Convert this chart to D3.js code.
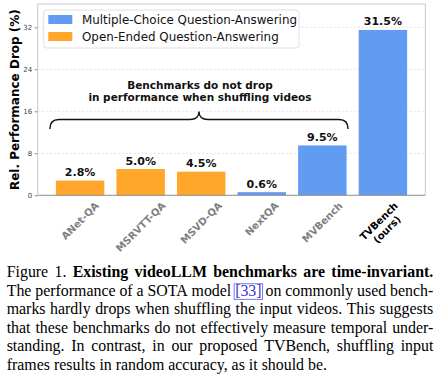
<!DOCTYPE html>
<html>
<head>
<meta charset="utf-8">
<script src="https://cdn.jsdelivr.net/npm/d3@7"></script>
<style>
  body { margin: 0; background: #fff; }
  svg { display: block; }
</style>
</head>
<body>
<script>
// chart data
var categories = ["ANet-QA", "MSRVTT-QA", "MSVD-QA", "NextQA", "MVBench", "TVBench"];
var tickNames = [["ANet-QA"], ["MSRVTT-QA"], ["MSVD-QA"], ["NextQA"], ["MVBench"], ["TVBench", "(ours)"]];
var drops = [2.8, 5.0, 4.5, 0.6, 9.5, 31.5];
var kinds = ["oe", "oe", "oe", "mc", "mc", "mc"];
var yTicks = [0, 8, 16, 24, 32];
var legendItems = [
  { key: "mc", label: "Multiple-Choice Question-Answering" },
  { key: "oe", label: "Open-Ended Question-Answering" }
];
var noteLines = ["Benchmarks do not drop", "in performance when shuffling videos"];

// caption, one array per printed line
var captionLines = [
  [["Figure 1.", "n"], ["Existing videoLLM benchmarks are time-invariant.", "b"]],
  [["The performance of a SOTA model", "n"], ["[33]", "l"], ["on commonly used bench-", "n"]],
  [["marks hardly drops when shuffling the input videos. This suggests", "n"]],
  [["that these benchmarks do not effectively measure temporal under-", "n"]],
  [["standing. In contrast, in our proposed TVBench, shuffling input", "n"]],
  [["frames results in random accuracy, as it should be.", "n"]]
];

var W = 442, H = 384;
var colors = { mc: "#619bf2", oe: "#ffa62b" };
var chartFont = "DejaVu Sans, sans-serif";

var svg = d3.select("body").append("svg")
  .attr("width", W)
  .attr("height", H);

var plotL = 37.7, plotR = 425.3, plotT = 4, plotB = 195.3;

var x = d3.scaleBand()
  .domain(categories)
  .range([plotL, plotR])
  .paddingInner(0.2)
  .paddingOuter(0.3);

var y = d3.scaleLinear()
  .domain([0, 36.44])
  .range([plotB, plotT]);

// grid
svg.append("g").selectAll("line")
  .data(yTicks.filter(function (d) { return d > 0; }))
  .enter().append("line")
  .attr("x1", plotL).attr("x2", plotR)
  .attr("y1", function (d) { return y(d); })
  .attr("y2", function (d) { return y(d); })
  .attr("stroke", "#d9d9d9")
  .attr("stroke-width", 0.8)
  .attr("stroke-dasharray", "2,2");

// y axis ticks
var yAxis = svg.append("g")
  .attr("transform", "translate(" + plotL + ",0)")
  .call(d3.axisLeft(y).tickValues(yTicks).tickSize(3).tickPadding(2.5));
yAxis.select(".domain").remove();
yAxis.selectAll(".tick line").attr("stroke", "#888");
yAxis.selectAll(".tick text")
  .attr("font-family", chartFont)
  .attr("font-size", 7)
  .attr("fill", "#444");

// bars
svg.append("g").selectAll("rect")
  .data(categories)
  .enter().append("rect")
  .attr("x", function (d) { return x(d); })
  .attr("y", function (d, i) { return y(drops[i]); })
  .attr("width", x.bandwidth())
  .attr("height", function (d, i) { return plotB - y(drops[i]); })
  .attr("fill", function (d, i) { return colors[kinds[i]]; });

// value labels
svg.append("g").selectAll("text")
  .data(categories)
  .enter().append("text")
  .attr("x", function (d) { return x(d) + x.bandwidth() / 2; })
  .attr("y", function (d, i) { return y(drops[i]) - 4.5; })
  .attr("text-anchor", "middle")
  .attr("font-family", chartFont)
  .attr("font-weight", "bold")
  .attr("font-size", 11)
  .attr("fill", "#111")
  .text(function (d, i) { return drops[i].toFixed(1) + "%"; });

// spines
svg.append("path")
  .attr("d", "M" + plotL + "," + plotB + "V" + plotT + "H" + plotR + "V" + plotB)
  .attr("fill", "none")
  .attr("stroke", "#c8c8c8")
  .attr("stroke-width", 1);
svg.append("line")
  .attr("x1", plotL).attr("x2", plotR)
  .attr("y1", plotB).attr("y2", plotB)
  .attr("stroke", "#8c8c8c")
  .attr("stroke-width", 1);

// rotated category labels, box centred under each bar
var xfs = 10, lineH = xfs * 1.16;
tickNames.forEach(function (lines, i) {
  var cx = x(categories[i]) + x.bandwidth() / 2;
  var g = svg.append("g");
  var texts = lines.map(function (s, k) {
    return g.append("text")
      .attr("x", 0)
      .attr("y", (k - (lines.length - 1) / 2) * lineH)
      .attr("dy", "0.35em")
      .attr("text-anchor", "middle")
      .attr("font-family", chartFont)
      .attr("font-weight", "bold")
      .attr("font-size", xfs)
      .attr("fill", i === categories.length - 1 ? "#000" : "#808080")
      .text(s);
  });
  var len = d3.max(texts, function (t) { return t.node().getComputedTextLength(); });
  var boxH = (len + lines.length * lineH) * Math.SQRT1_2;
  var cy = plotB + 4.5 + boxH / 2;
  g.attr("transform", "translate(" + cx + "," + cy + ") rotate(-45)");
});

// y label
svg.append("text")
  .attr("transform", "translate(18.5," + ((plotT + plotB) / 2) + ") rotate(-90)")
  .attr("text-anchor", "middle")
  .attr("font-family", chartFont)
  .attr("font-weight", "bold")
  .attr("font-size", 12)
  .attr("fill", "#000")
  .text("Rel. Performance Drop (%)");

// legend
var lg = svg.append("g");
lg.append("rect")
  .attr("x", 43.7).attr("y", 10)
  .attr("width", 255.3).attr("height", 38)
  .attr("rx", 3)
  .attr("fill", "#fff")
  .attr("fill-opacity", 0.85)
  .attr("stroke", "#d8d8d8")
  .attr("stroke-width", 0.8);
legendItems.forEach(function (it, i) {
  var yy = 15 + i * 17;
  lg.append("rect")
    .attr("x", 48.3).attr("y", yy)
    .attr("width", 24).attr("height", 9)
    .attr("fill", colors[it.key]);
  lg.append("text")
    .attr("x", 82).attr("y", yy + 8.5)
    .attr("font-family", chartFont)
    .attr("font-size", 11.9)
    .attr("fill", "#111")
    .text(it.label);
});

// curly bracket over the five older benchmarks
var bx0 = x(categories[0]) - 6;
var bx1 = x(categories[4]) + x.bandwidth() + 1.5;
var bm = (bx0 + bx1) / 2, by = 119.5, r = 9;
svg.append("path")
  .attr("d", "M" + bx0 + "," + (by + 9.5) +
    "Q" + bx0 + "," + by + " " + (bx0 + r) + "," + by +
    "H" + (bm - r) +
    "Q" + bm + "," + by + " " + bm + "," + (by - 8) +
    "Q" + bm + "," + by + " " + (bm + r) + "," + by +
    "H" + (bx1 - r) +
    "Q" + bx1 + "," + by + " " + bx1 + "," + (by + 9.5))
  .attr("fill", "none")
  .attr("stroke", "#111")
  .attr("stroke-width", 1.4);

svg.append("g").selectAll("text")
  .data(noteLines)
  .enter().append("text")
  .attr("x", bm + 1)
  .attr("y", function (d, i) { return 89 + i * 12; })
  .attr("text-anchor", "middle")
  .attr("font-family", chartFont)
  .attr("font-weight", "bold")
  .attr("font-size", 10.5)
  .attr("fill", "#111")
  .text(function (d) { return d; });

// caption, justified word by word
var capFont = "Liberation Serif, Times New Roman, serif";
var capSize = 15.9, capX0 = 6.7, capX1 = 433.3, capY0 = 277.3, capStep = 18.5;
captionLines.forEach(function (segs, li) {
  var words = [];
  segs.forEach(function (s) {
    s[0].split(" ").forEach(function (w) { words.push({ t: w, st: s[1] }); });
  });
  var by0 = capY0 + li * capStep;
  var nodes = words.map(function (w) {
    return svg.append("text")
      .attr("y", by0)
      .attr("font-family", capFont)
      .attr("font-size", capSize)
      .attr("font-weight", w.st === "b" ? "bold" : "normal")
      .attr("fill", w.st === "l" ? "#3535d8" : "#000")
      .text(w.t);
  });
  var widths = nodes.map(function (n) { return n.node().getComputedTextLength(); });
  var total = d3.sum(widths);
  var last = li === captionLines.length - 1;
  var gap = last ? capSize * 0.25 : (capX1 - capX0 - total) / (words.length - 1);
  var cx = capX0;
  nodes.forEach(function (n, k) {
    n.attr("x", cx);
    if (words[k].st === "l") {
      svg.append("rect")
        .attr("x", cx - 1).attr("y", by0 - 12)
        .attr("width", widths[k] + 2).attr("height", 15.5)
        .attr("fill", "none")
        .attr("stroke", "#5555ee")
        .attr("stroke-width", 0.8);
    }
    cx += widths[k] + gap;
  });
});
</script>
</body>
</html>
